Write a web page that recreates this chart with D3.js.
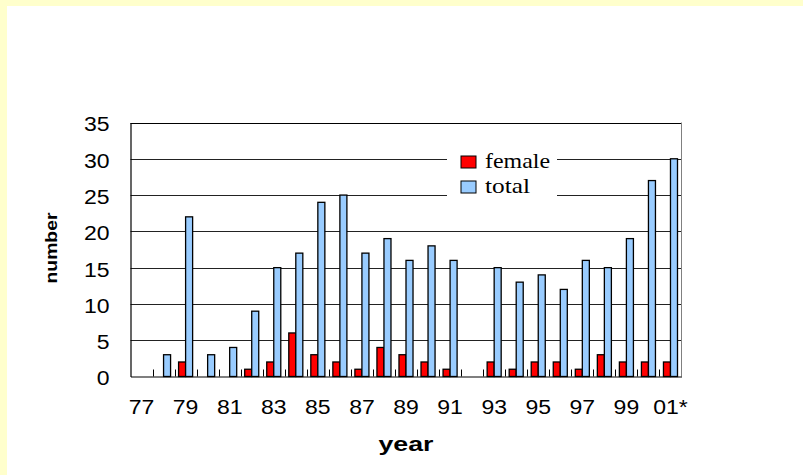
<!DOCTYPE html>
<html>
<head>
<meta charset="utf-8">
<script src="https://cdn.jsdelivr.net/npm/d3@7"></script>
<style>
  body { margin: 0; background: #FFFFCC; }
  svg { display: block; }
</style>
</head>
<body>
<div id="chartDiv"></div>
<script>
// data
var years = ["77","78","79","80","81","82","83","84","85","86","87","88","89",
             "90","91","92","93","94","95","96","97","98","99","00","01*"];
var female = [0,0,2,0,0,1,2,6,3,2,1,4,3,2,1,0,2,1,2,2,1,3,2,2,2];
var total  = [0,3,22,3,4,9,15,17,24,25,17,19,16,18,16,0,15,13,14,12,16,15,19,27,30];
var series = ["female", "total"];
var yTicks = [0, 5, 10, 15, 20, 25, 30, 35];

var width = 803, height = 475;
var margin = {left: 130.5, right: 121.5, top: 122.5, bottom: 98.5};

var svg = d3.select("#chartDiv")
    .append("svg")
    .attr("width", width)
    .attr("height", height);

// white page over the yellow border
svg.append("rect")
    .attr("x", 7).attr("y", 6)
    .attr("width", width - 7).attr("height", height - 6)
    .attr("fill", "#fff");

var x0 = d3.scaleBand()
    .domain(years)
    .range([margin.left, width - margin.right]);

var x1 = d3.scaleBand()
    .domain(series)
    .range([4, x0.bandwidth() - 4]);

var y = d3.scaleLinear()
    .domain([0, 35])
    .range([height - margin.bottom, margin.top]);

var color = d3.scaleOrdinal()
    .domain(series)
    .range(["#FF0000", "#99CCFF"]);

var rows = years.map(function (d, i) {
    return {year: d, female: female[i], total: total[i]};
});

// gridlines
svg.append("g")
    .selectAll("line")
    .data(yTicks.slice(1))
    .enter().append("line")
    .attr("x1", margin.left).attr("x2", width - margin.right)
    .attr("y1", function (d) { return Math.round(y(d)) + 0.5; })
    .attr("y2", function (d) { return Math.round(y(d)) + 0.5; })
    .attr("stroke", function (d) { return d == 35 ? "#000" : "#222"; })
    .attr("stroke-width", 1);

// right border
svg.append("line")
    .attr("x1", width - margin.right).attr("x2", width - margin.right)
    .attr("y1", margin.top).attr("y2", y(0))
    .attr("stroke", "#808080");

// bars
var groups = svg.append("g")
    .selectAll("g")
    .data(rows)
    .enter().append("g")
    .attr("transform", function (d) { return "translate(" + x0(d.year) + ",0)"; });

groups.selectAll("rect")
    .data(function (d) {
        return series.map(function (s) { return {key: s, value: d[s]}; })
            .filter(function (e) { return e.value > 0; });
    })
    .enter().append("rect")
    .attr("x", function (d) { return x1(d.key); })
    .attr("width", x1.bandwidth())
    .attr("y", function (d) { return y(d.value); })
    .attr("height", function (d) { return y(0) - y(d.value); })
    .attr("fill", function (d) { return color(d.key); })
    .attr("stroke", "#000")
    .attr("stroke-width", 1.3);

// inner ticks on category boundaries
svg.append("g")
    .selectAll("line")
    .data(years.slice(1))
    .enter().append("line")
    .attr("x1", function (d) { return Math.round(x0(d)) + 0.5; })
    .attr("x2", function (d) { return Math.round(x0(d)) + 0.5; })
    .attr("y1", y(0)).attr("y2", y(0) - 7)
    .attr("stroke", "#000");

// axes
var xAxis = svg.append("g")
    .attr("transform", "translate(0," + y(0) + ")")
    .call(d3.axisBottom(x0)
        .tickSize(0)
        .tickPadding(23)
        .tickFormat(function (d, i) { return i % 2 == 0 ? d : ""; }));
xAxis.select(".domain").attr("stroke", "#000").attr("stroke-width", 1.2);
xAxis.selectAll("text")
    .attr("class", "stretch")
    .style("font-family", "'Liberation Sans', Arial, sans-serif")
    .style("font-size", "20px")
    .attr("fill", "#000");

var yAxis = svg.append("g")
    .attr("transform", "translate(" + margin.left + ",0)")
    .call(d3.axisLeft(y).tickValues(yTicks).tickSize(0).tickPadding(21));
yAxis.select(".domain").attr("stroke", "#000").attr("stroke-width", 1.2);
yAxis.selectAll("text")
    .attr("class", "stretch")
    .attr("dy", "0.42em")
    .style("font-family", "'Liberation Sans', Arial, sans-serif")
    .style("font-size", "20px")
    .attr("fill", "#000");

// axis titles
svg.append("text")
    .attr("x", 406).attr("y", 451)
    .attr("text-anchor", "middle")
    .attr("textLength", 55)
    .attr("lengthAdjust", "spacingAndGlyphs")
    .style("font-family", "'Liberation Sans', Arial, sans-serif")
    .style("font-size", "21px")
    .style("font-weight", "bold")
    .text("year");

svg.append("text")
    .attr("transform", "translate(57,248) rotate(-90)")
    .attr("text-anchor", "middle")
    .attr("textLength", 71)
    .attr("lengthAdjust", "spacingAndGlyphs")
    .style("font-family", "'Liberation Sans', Arial, sans-serif")
    .style("font-size", "17px")
    .style("font-weight", "bold")
    .text("number");

// legend
var legend = svg.append("g");
legend.append("rect")
    .attr("x", 447).attr("y", 146)
    .attr("width", 110).attr("height", 54)
    .attr("fill", "#fff");

var legendWidths = [65, 45];
var items = legend.selectAll("g")
    .data(series)
    .enter().append("g")
    .attr("transform", function (d, i) { return "translate(461," + (156 + i * 25) + ")"; });
items.append("rect")
    .attr("width", 15).attr("height", 12)
    .attr("fill", function (d) { return color(d); })
    .attr("stroke", "#000")
    .attr("stroke-width", 1);
items.append("text")
    .attr("x", 24).attr("y", 11.5)
    .attr("textLength", function (d, i) { return legendWidths[i]; })
    .attr("lengthAdjust", "spacingAndGlyphs")
    .style("font-family", "'Liberation Serif', 'Times New Roman', serif")
    .style("font-size", "21px")
    .text(function (d) { return d; });

// the original's text is drawn a bit wide
svg.selectAll("text.stretch").each(function () {
    var len = this.getComputedTextLength();
    if (len > 0) {
        d3.select(this)
            .attr("textLength", len * 1.15)
            .attr("lengthAdjust", "spacingAndGlyphs");
    }
});
</script>
</body>
</html>
